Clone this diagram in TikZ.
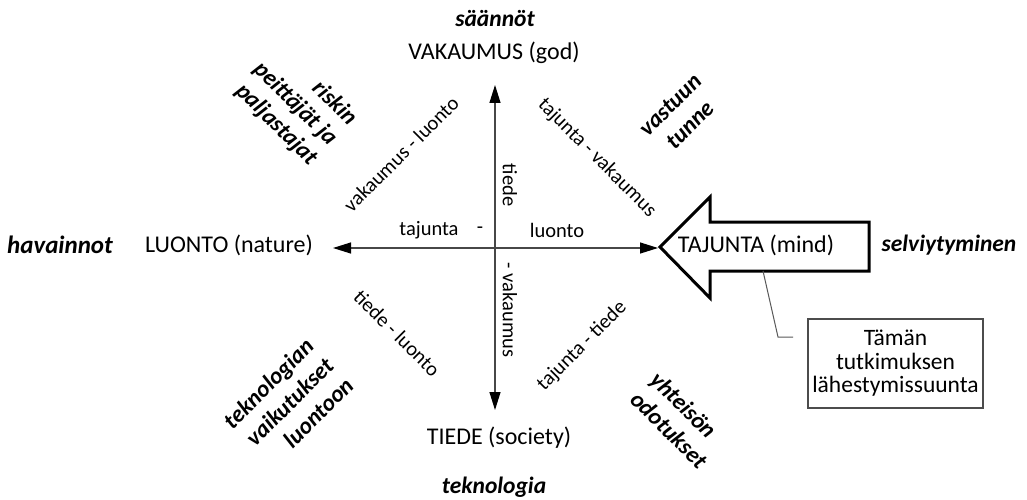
\documentclass[tikz,border=0pt]{standalone}
\usepackage{fontspec}
\setmainfont{Carlito}
\usetikzlibrary{arrows.meta}

\begin{document}
\begin{tikzpicture}[x=1pt,y=-1pt,
  pole/.style={font=\fontsize{24}{28}\selectfont, inner sep=0pt},
  pair/.style={font=\fontsize{20.5}{24}\selectfont, inner sep=0pt},
  theme/.style={font=\fontsize{23.5}{28}\selectfont\bfseries\itshape, inner sep=0pt},
  axis/.style={draw=black!72, line width=1.2pt,
    {Triangle[length=18pt,width=11pt,color=black]}-{Triangle[length=18pt,width=11pt,color=black]}},
  blockarrow/.style={draw=black, fill=white, line width=3pt, line join=miter},
  leader/.style={draw=black!65, line width=1pt},
  notebox/.style={draw=black!70, line width=1.2pt, fill=white, align=center,
    minimum width=175pt, minimum height=89pt, inner sep=0pt,
    font=\fontsize{23.5}{23.5}\selectfont}]

\useasboundingbox (0,0) rectangle (1027,500);
\fill[white] (0,0) rectangle (1027,500);

% axes
\coordinate (vtop) at (495,85);
\coordinate (vbot) at (495,410);
\coordinate (hleft) at (333,248);
\coordinate (hright) at (658,248);
\draw[axis] (vbot) -- (vtop);
\draw[axis] (hleft) -- (hright);

% poles
\node[theme] (rules) at (495,19) {säännöt};
\node[pole] (god) at (494,53) {VAKAUMUS (god)};
\node[pole] (nature) at (229,245) {LUONTO (nature)};
\node[theme, font=\fontsize{25}{28}\selectfont\bfseries\itshape] (obs) at (60,245) {havainnot};
\node[pole] (society) at (499,438) {TIEDE (society)};
\node[theme] (tech) at (494,487) {teknologia};
\node[theme] (survival) at (949,245) {selviytyminen};

% block arrow for the research direction
\draw[blockarrow] (660,247) -- (710,197) -- (710,222) -- (869,222)
  -- (869,271) -- (710,271) -- (710,298) -- cycle;
\node[pole] (mind) at (756,245) {TAJUNTA (mind)};

% pair labels
\node[pair] (tj) at (429,230) {tajunta};
\node[pair] (dash) at (480,230) {-};
\node[pair] (lu) at (557,230) {luonto};
\node[pair, rotate=-90] (td) at (510,185) {tiede};
\node[pair, rotate=-90] (vk) at (510,310) {- vakaumus};
\node[pair, rotate=45] (vl) at (401,154) {vakaumus - luonto};
\node[pair, rotate=-45] (tv) at (597,158) {tajunta - vakaumus};
\node[pair, rotate=-45] (tl) at (397,333) {tiede - luonto};
\node[pair, rotate=45] (tt) at (582,346) {tajunta - tiede};

% quadrant themes
\node[theme, rotate=-45, align=right] (risk) at (295,104)
  {riskin\\peittäjät ja\\paljastajat};
\node[theme, rotate=45, align=center] (resp) at (680,115)
  {vastuun\\tunne};
\node[theme, rotate=45, align=right] (impact) at (288,403)
  {teknologian\\vaikutukset\\luontoon};
\node[theme, rotate=-45, align=left] (expect) at (679,420)
  {yhteisön\\odotukset};

% callout
\node[notebox] (note) at (895.5,363.5)
  {Tämän\\tutkimuksen\\lähestymissuunta};
\coordinate (lead0) at (763,271);
\coordinate (lead1) at (778,337);
\coordinate (lead2) at (793,337);
\draw[leader] (lead0) -- (lead1) -- (lead2);

\end{tikzpicture}
\end{document}
